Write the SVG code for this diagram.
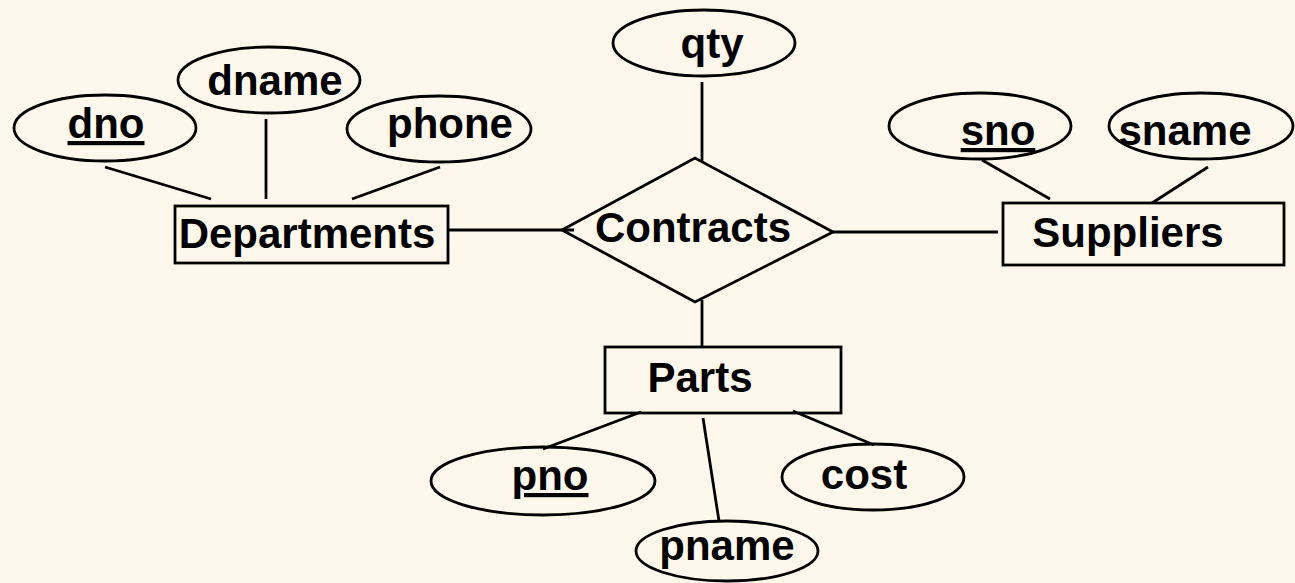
<svg xmlns="http://www.w3.org/2000/svg" width="1295" height="583" viewBox="0 0 1295 583">
<style>
.bg{fill:#FEF8EC}
.shape{fill:none;stroke:#000;stroke-width:2.8}
.conn line{stroke:#000;stroke-width:2.8}
text{font-family:"Liberation Sans",Arial,sans-serif;font-weight:bold;font-size:42px;fill:#000}
.key{text-decoration:underline}
</style>
<rect class="bg" x="0" y="0" width="1295" height="583"/>
<g id="connectors" class="conn">
<line x1="105" y1="167" x2="211" y2="199"/>
<line x1="266" y1="119" x2="266" y2="199"/>
<line x1="440" y1="167" x2="352" y2="199"/>
<line x1="448" y1="230" x2="574" y2="230"/>
<line x1="702" y1="82" x2="702" y2="162"/>
<line x1="833" y1="232" x2="998" y2="232"/>
<line x1="702" y1="300" x2="702" y2="347"/>
<line x1="982" y1="160" x2="1050" y2="199"/>
<line x1="1208" y1="167" x2="1152" y2="203"/>
<line x1="641" y1="412" x2="543" y2="449"/>
<line x1="703" y1="418" x2="719" y2="521"/>
<line x1="793" y1="411" x2="874" y2="445"/>
</g>
<g id="dno"><ellipse class="shape" cx="105" cy="128" rx="91" ry="33"/><text class="key" x="106" y="138" text-anchor="middle">dno</text></g>
<g id="dname"><ellipse class="shape" cx="269" cy="80" rx="91" ry="33"/><text x="275" y="95" text-anchor="middle">dname</text></g>
<g id="phone"><ellipse class="shape" cx="439" cy="129" rx="92" ry="33"/><text x="450" y="138" text-anchor="middle">phone</text></g>
<g id="departments"><rect class="shape" x="175" y="206" width="273" height="57"/><text x="307" y="248" text-anchor="middle">Departments</text></g>
<g id="qty"><ellipse class="shape" cx="704" cy="43" rx="91" ry="33"/><text x="712" y="58" text-anchor="middle">qty</text></g>
<g id="contracts"><polygon class="shape" points="562,230 695,158 833,232 695,302"/><text x="693" y="242" text-anchor="middle">Contracts</text></g>
<g id="sno"><ellipse class="shape" cx="980" cy="126" rx="91" ry="33"/><text class="key" x="998" y="145" text-anchor="middle">sno</text></g>
<g id="sname"><ellipse class="shape" cx="1201" cy="126" rx="92" ry="33"/><text x="1185" y="145" text-anchor="middle">sname</text></g>
<g id="suppliers"><rect class="shape" x="1003" y="203" width="281" height="62"/><text x="1128" y="247" text-anchor="middle">Suppliers</text></g>
<g id="parts"><rect class="shape" x="605" y="347" width="236" height="66"/><text x="700" y="392" text-anchor="middle">Parts</text></g>
<g id="pno"><ellipse class="shape" cx="543" cy="481" rx="112" ry="34"/><text class="key" x="550" y="490" text-anchor="middle">pno</text></g>
<g id="cost"><ellipse class="shape" cx="873" cy="477" rx="91" ry="33"/><text x="864" y="489" text-anchor="middle">cost</text></g>
<g id="pname"><ellipse class="shape" cx="727" cy="551" rx="91" ry="30"/><text x="727" y="560" text-anchor="middle">pname</text></g>
</svg>
